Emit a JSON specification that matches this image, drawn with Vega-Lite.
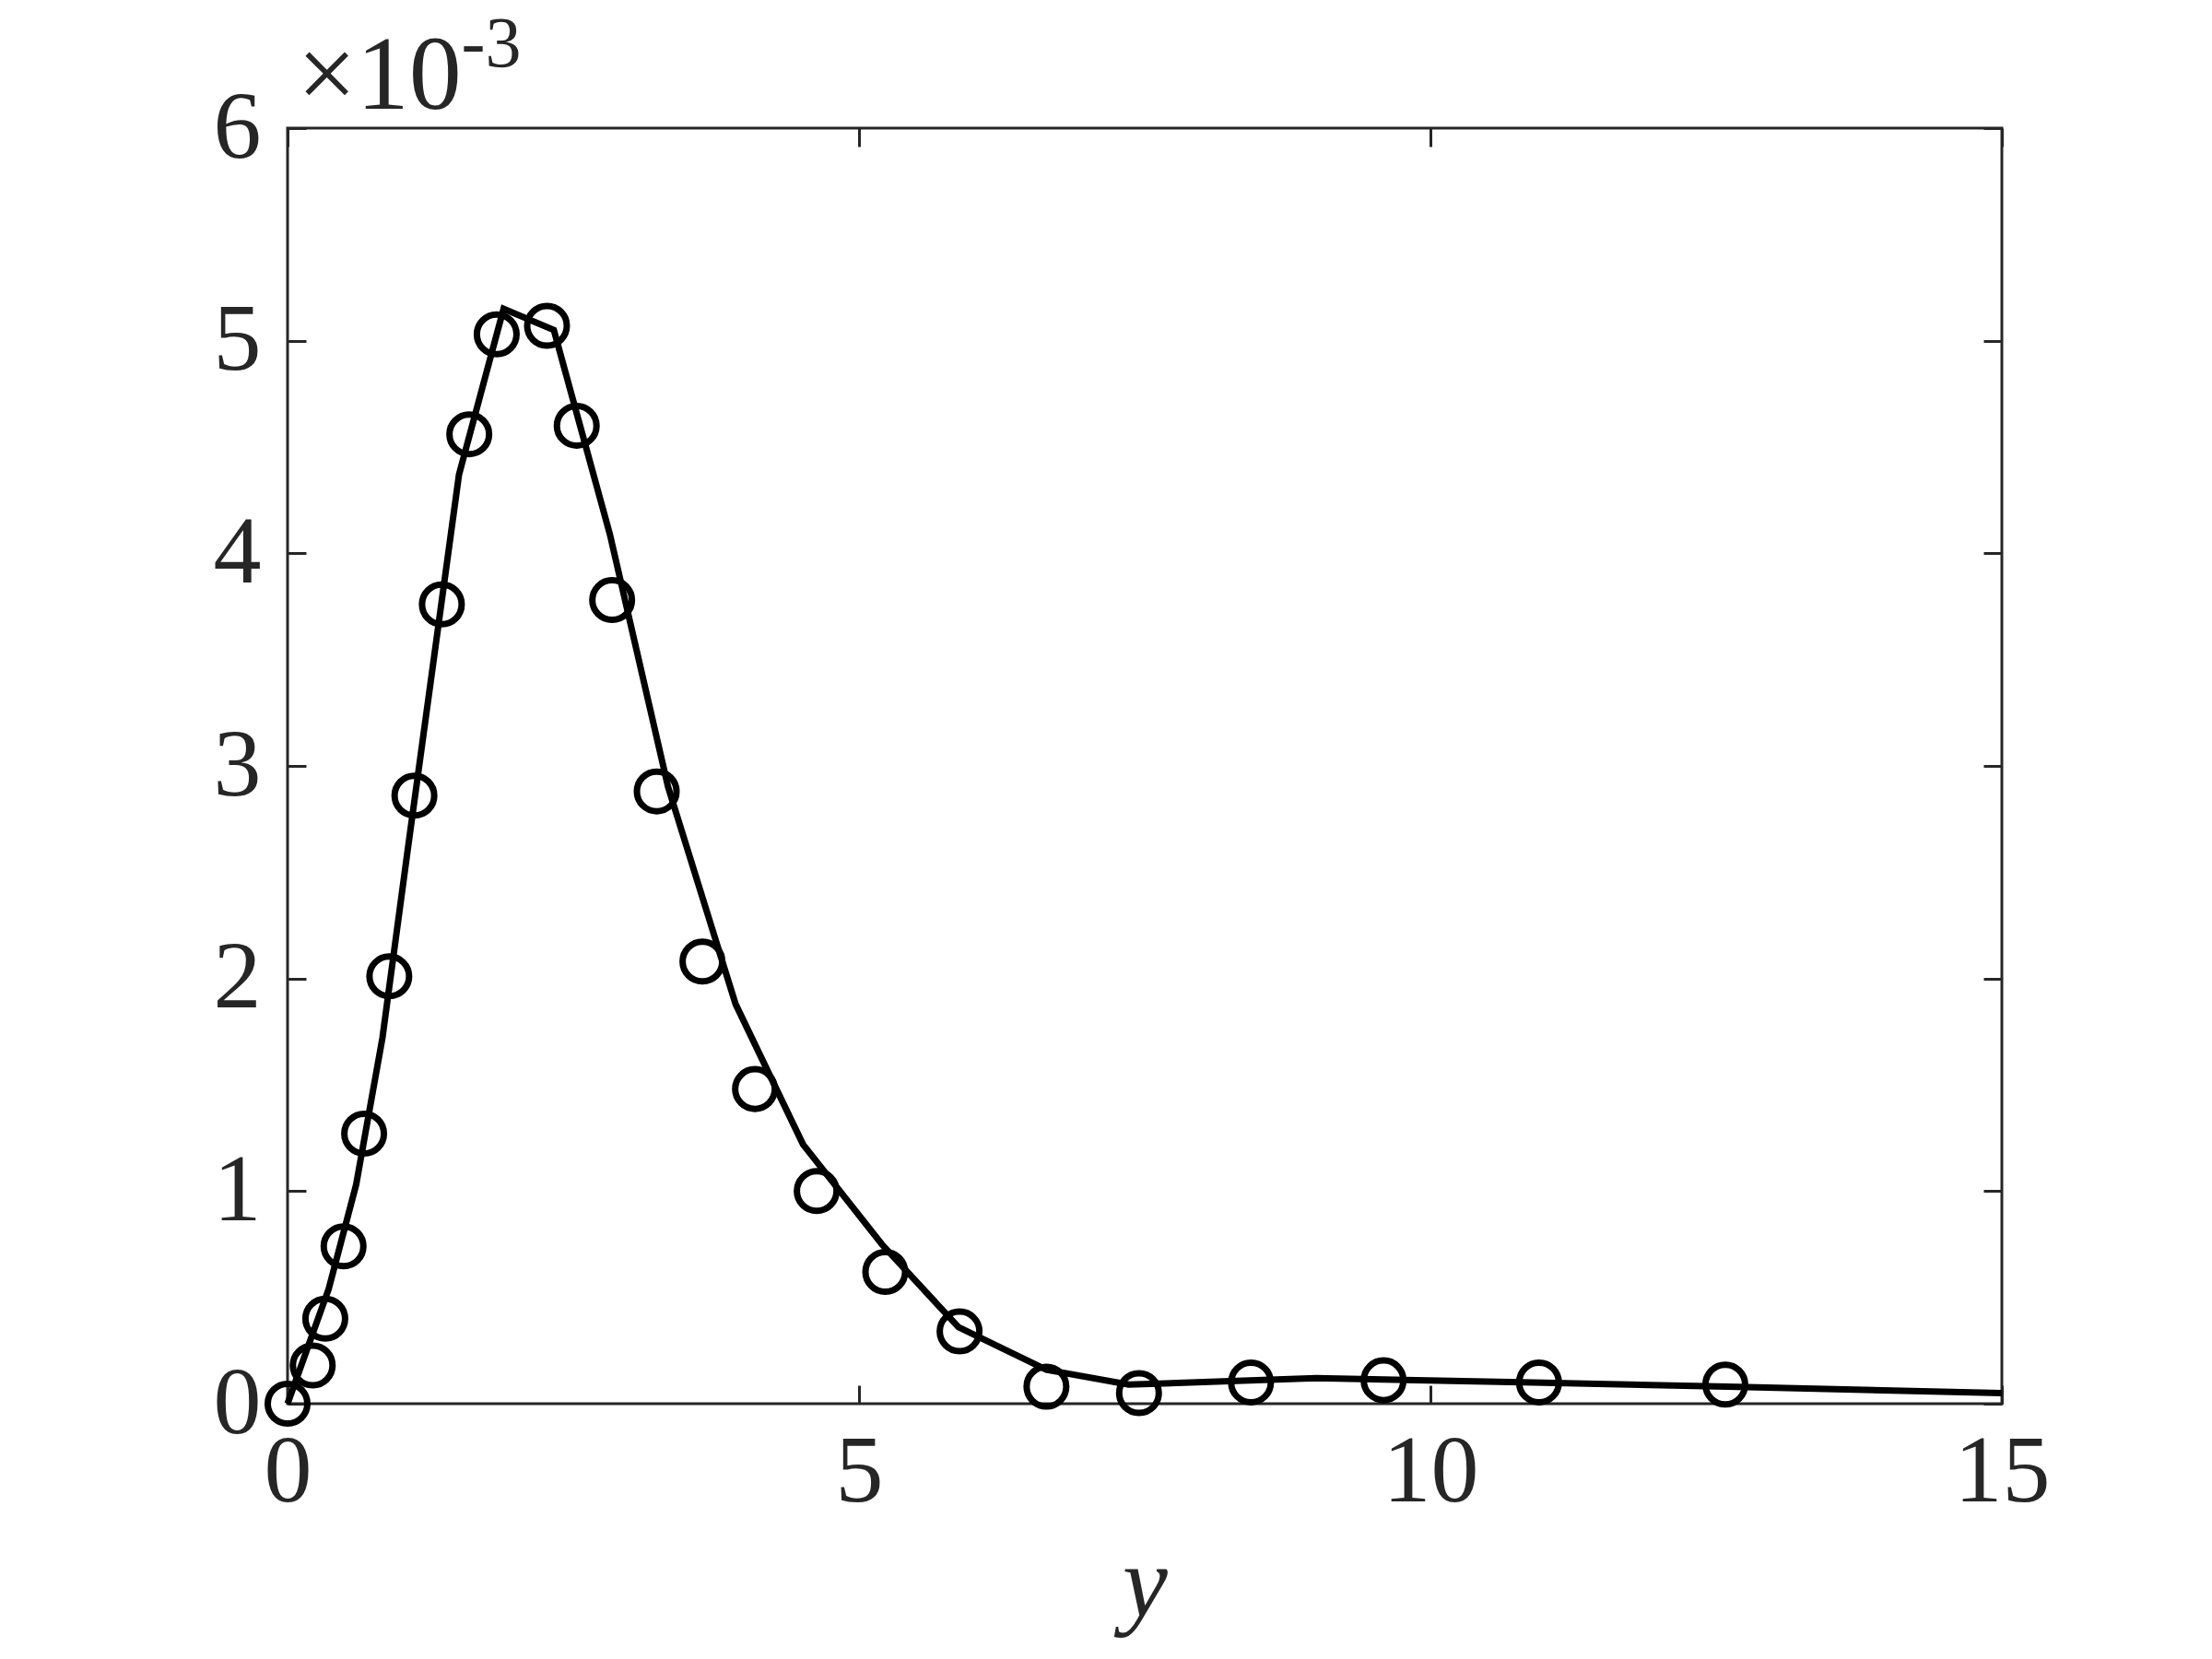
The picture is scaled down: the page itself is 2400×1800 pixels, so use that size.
{
  "$schema": "https://vega.github.io/schema/vega-lite/v6.json",
  "autosize": {"type": "none"},
  "width": 1860,
  "height": 1384,
  "padding": {"left": 312, "top": 139, "right": 228, "bottom": 277},
  "background": "white",
  "config": {
    "view": {"stroke": "#262626", "strokeWidth": 3},
    "font": "Liberation Serif",
    "axis": {
      "domain": false,
      "grid": false,
      "tickColor": "#262626",
      "tickWidth": 3,
      "tickSize": -20,
      "labelFlush": false,
      "labelOverlap": false,
      "labelColor": "#262626",
      "labelFont": "Liberation Serif",
      "labelFontSize": 104,
      "titleColor": "#262626",
      "titleFont": "Liberation Serif",
      "titleFontWeight": "normal"
    }
  },
  "datasets": {
    "model": [
      {"y": 0, "v": 0},
      {"y": 0.36, "v": 0.00054},
      {"y": 0.60, "v": 0.00103},
      {"y": 0.83, "v": 0.00172},
      {"y": 1.05, "v": 0.0026},
      {"y": 1.5, "v": 0.00437},
      {"y": 1.89, "v": 0.00515},
      {"y": 2.33, "v": 0.00505},
      {"y": 2.82, "v": 0.00409},
      {"y": 3.33, "v": 0.0029},
      {"y": 3.92, "v": 0.00188},
      {"y": 4.51, "v": 0.00122},
      {"y": 5.2, "v": 0.00075},
      {"y": 5.87, "v": 0.00036},
      {"y": 6.64, "v": 0.00016},
      {"y": 7.36, "v": 0.00009},
      {"y": 9.0, "v": 0.00012},
      {"y": 10.9, "v": 0.0001},
      {"y": 12.6, "v": 0.00008},
      {"y": 15, "v": 0.00005}
    ],
    "data": [
      {"y": 0, "v": 0},
      {"y": 0.22, "v": 0.00018},
      {"y": 0.33, "v": 0.0004},
      {"y": 0.49, "v": 0.00074},
      {"y": 0.67, "v": 0.00127},
      {"y": 0.89, "v": 0.00201},
      {"y": 1.11, "v": 0.00286},
      {"y": 1.35, "v": 0.00376},
      {"y": 1.59, "v": 0.00456},
      {"y": 1.83, "v": 0.00503},
      {"y": 2.27, "v": 0.00507},
      {"y": 2.53, "v": 0.0046},
      {"y": 2.84, "v": 0.00378},
      {"y": 3.23, "v": 0.00288},
      {"y": 3.63, "v": 0.00208},
      {"y": 4.09, "v": 0.00148},
      {"y": 4.63, "v": 0.001},
      {"y": 5.23, "v": 0.00062},
      {"y": 5.88, "v": 0.00034},
      {"y": 6.64, "v": 0.00008},
      {"y": 7.45, "v": 0.00005},
      {"y": 8.43, "v": 0.0001},
      {"y": 9.59, "v": 0.00011},
      {"y": 10.95, "v": 0.0001},
      {"y": 12.58, "v": 0.00009}
    ]
  },
  "layer": [
    {
      "data": {"name": "model"},
      "mark": {"type": "line", "color": "black", "strokeWidth": 7, "clip": false},
      "encoding": {
        "x": {
          "field": "y", "type": "quantitative",
          "scale": {"domain": [0, 15], "nice": false, "zero": false},
          "axis": {
            "orient": "bottom",
            "values": [0, 5, 10, 15],
            "format": "d",
            "labelBaseline": "top",
            "labelPadding": 43,
            "title": "y",
            "titleFontStyle": "italic",
            "titleFontSize": 110,
            "titleAlign": "center",
            "titleBaseline": "alphabetic",
            "titleX": 930,
            "titleY": 230
          }
        },
        "y": {
          "field": "v", "type": "quantitative",
          "scale": {"domain": [0, 0.006], "nice": false, "zero": false},
          "axis": {
            "orient": "left",
            "values": [0, 0.001, 0.002, 0.003, 0.004, 0.005, 0.006],
            "labelExpr": "format(datum.value * 1000, '.0f')",
            "labelAlign": "right",
            "labelBaseline": "middle",
            "labelPadding": 49,
            "title": "×10",
            "titleAngle": 0,
            "titleFontSize": 114,
            "titleAlign": "left",
            "titleBaseline": "alphabetic",
            "titleX": 10,
            "titleY": -22
          }
        }
      }
    },
    {
      "data": {"name": "data"},
      "mark": {"type": "point", "shape": "circle", "filled": false, "color": "black", "opacity": 1, "strokeWidth": 7, "size": 1850, "clip": false},
      "encoding": {
        "x": {
          "field": "y", "type": "quantitative",
          "axis": {
            "orient": "top",
            "values": [0, 5, 10, 15],
            "labels": false,
            "title": "-3",
            "titleFontSize": 78,
            "titleAlign": "left",
            "titleBaseline": "alphabetic",
            "titleX": 188,
            "titleY": -68
          }
        },
        "y": {
          "field": "v", "type": "quantitative",
          "axis": {
            "orient": "right",
            "values": [0, 0.001, 0.002, 0.003, 0.004, 0.005, 0.006],
            "labels": false,
            "title": null
          }
        }
      }
    }
  ],
  "resolve": {"axis": {"x": "independent", "y": "independent"}}
}
